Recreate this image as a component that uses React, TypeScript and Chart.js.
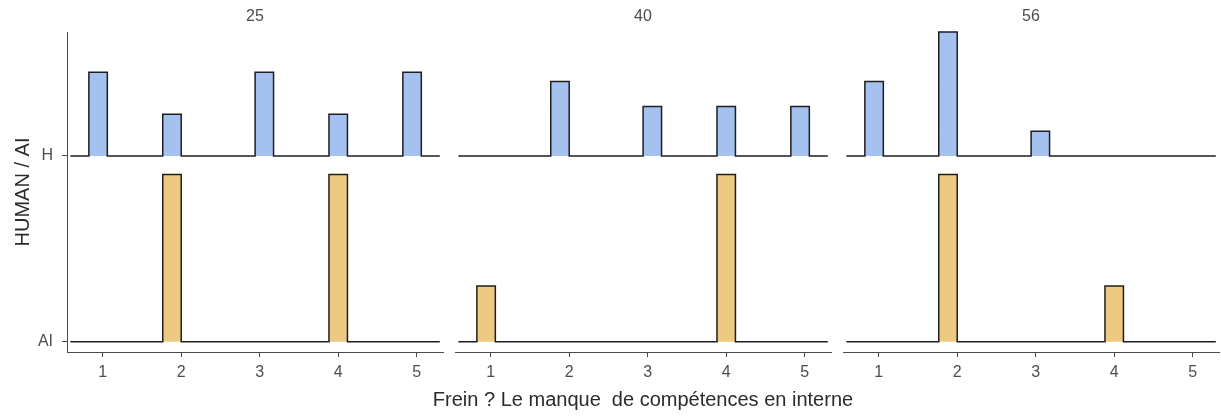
import React, { useEffect, useRef } from 'react';
import { Chart, registerables } from 'chart.js';

Chart.register(...registerables);

// ---------- data ----------
const FACETS = ['25', '40', '56'];
const X_VALUES = [1, 2, 3, 4, 5];
const X_TICKS = [1, 2, 3, 4, 5];
const Y_LABELS = ['AI', 'H'];
const Y_TICKS = [1, 2];

const HUMAN_25 = [2, 1, 2, 1, 2];
const AI_25 = [0, 1, 0, 1, 0];
const HUMAN_40 = [0, 3, 2, 2, 2];
const AI_40 = [1, 0, 0, 3, 0];
const HUMAN_56 = [3, 5, 1, 0, 0];
const AI_56 = [0, 3, 0, 1, 0];

const HUMAN_COUNTS = [HUMAN_25, HUMAN_40, HUMAN_56];
const AI_COUNTS = [AI_25, AI_40, AI_56];

const X_TITLE = 'Frein ? Le manque  de compétences en interne';
const Y_TITLE = 'HUMAN / AI';

// ---------- style / layout ----------
const W = 1221;
const H = 419;
const FONT = '"Liberation Sans", Arial, sans-serif';
const BINS = 18;
const RIDGE_SCALE = 0.9;
const X_MIN = 0.545;
const X_MAX = 5.335;
const Y_MIN = 0.945;
const Y_MAX = 2.667;
const AREA_TOP = 32;
const AREA_BOTTOM = 352;
const PANELS = [
  { left: 67, right: 443 },
  { left: 455, right: 831 },
  { left: 843, right: 1219 },
];
const BLUE = '#a4c1ef';
const GOLD = '#eec981';
const OUTLINE = '#1e1e1e';
const AXIS = '#4a4a4a';
const TEXT = '#4d4d4d';

// ---------- binning (ggplot-style) ----------
const rangeMin = Math.min(...X_VALUES);
const rangeMax = Math.max(...X_VALUES);
const binWidth = (rangeMax - rangeMin) / (BINS - 1);
const boundary = binWidth / 2;
const origin = boundary + Math.floor((rangeMin - boundary) / binWidth) * binWidth;

function binDensity(counts: number[]): number[] {
  const n = counts.reduce((a, b) => a + b, 0);
  const h = new Array(BINS).fill(0);
  X_VALUES.forEach((v, i) => {
    let idx = Math.ceil((v - origin) / binWidth - 1e-7) - 1;
    idx = Math.max(0, Math.min(BINS - 1, idx));
    h[idx] += counts[i] / n / binWidth;
  });
  return h;
}

function ridgePoints(dens: number[], base: number, maxD: number) {
  const padded = [0, ...dens, 0];
  const pts: { x: number; y: number }[] = [];
  padded.forEach((d, k) => {
    const left = origin + (k - 1) * binWidth;
    const y = base + (d / maxD) * RIDGE_SCALE;
    pts.push({ x: left, y }, { x: left + binWidth, y });
  });
  return pts;
}

const panelTextPlugin = {
  id: 'panelText',
  afterDraw(chart: any, _args: any, opts: any) {
    const { ctx, chartArea } = chart;
    const cx = (chartArea.left + chartArea.right) / 2;
    ctx.save();
    ctx.textAlign = 'center';
    ctx.textBaseline = 'middle';
    ctx.fillStyle = TEXT;
    ctx.font = `16px ${FONT}`;
    ctx.fillText(opts.facet, cx, 17);
    if (opts.xTitle) {
      ctx.fillStyle = '#2b2b2b';
      ctx.font = `20px ${FONT}`;
      ctx.fillText(opts.xTitle, cx, 400);
    }
    ctx.restore();
  },
};

function makeConfig(i: number): any {
  const hd = binDensity(HUMAN_COUNTS[i]);
  const ad = binDensity(AI_COUNTS[i]);
  const maxD = Math.max(...hd, ...ad);
  const p = PANELS[i];
  const first = i === 0;
  return {
    type: 'line',
    data: {
      datasets: [
        {
          label: Y_LABELS[0],
          data: ridgePoints(ad, Y_TICKS[0], maxD),
          borderColor: OUTLINE,
          backgroundColor: GOLD,
          borderWidth: 1.5,
          pointRadius: 0,
          tension: 0,
          fill: { value: Y_TICKS[0] },
          clip: false,
        },
        {
          label: Y_LABELS[1],
          data: ridgePoints(hd, Y_TICKS[1], maxD),
          borderColor: OUTLINE,
          backgroundColor: BLUE,
          borderWidth: 1.5,
          pointRadius: 0,
          tension: 0,
          fill: { value: Y_TICKS[1] },
          clip: false,
        },
      ],
    },
    options: {
      responsive: false,
      maintainAspectRatio: false,
      animation: false,
      events: [],
      layout: {
        padding: {
          left: first ? 0 : p.left,
          right: W - p.right,
          top: AREA_TOP,
          bottom: 0,
        },
      },
      plugins: {
        legend: { display: false },
        tooltip: { enabled: false },
        panelText: { facet: FACETS[i], xTitle: i === 1 ? X_TITLE : '' },
      },
      scales: {
        x: {
          type: 'linear',
          position: 'bottom',
          min: X_MIN,
          max: X_MAX,
          afterBuildTicks: (s: any) => {
            s.ticks = X_TICKS.map((v) => ({ value: v }));
          },
          afterFit: (s: any) => {
            s.height = H - AREA_BOTTOM;
          },
          ticks: {
            color: TEXT,
            font: { family: FONT, size: 16 },
            padding: 6,
            maxRotation: 0,
            autoSkip: false,
            callback: (v: any) => String(v),
          },
          grid: {
            display: true,
            drawOnChartArea: false,
            drawTicks: true,
            tickLength: 5,
            color: AXIS,
            lineWidth: 1,
          },
          border: { display: true, color: AXIS, width: 1 },
        },
        y: {
          type: 'linear',
          position: 'left',
          display: first,
          min: Y_MIN,
          max: Y_MAX,
          afterBuildTicks: (s: any) => {
            s.ticks = Y_TICKS.map((v) => ({ value: v }));
          },
          afterFit: (s: any) => {
            s.width = first ? PANELS[0].left : 0;
          },
          ticks: {
            color: TEXT,
            font: { family: FONT, size: 16 },
            padding: 9,
            autoSkip: false,
            callback: (v: any) => Y_LABELS[Y_TICKS.indexOf(v)] ?? '',
          },
          grid: {
            display: true,
            drawOnChartArea: false,
            drawTicks: true,
            tickLength: 5,
            color: AXIS,
            lineWidth: 1,
          },
          border: { display: true, color: AXIS, width: 1 },
          title: {
            display: true,
            text: Y_TITLE,
            color: '#2b2b2b',
            font: { family: FONT, size: 20 },
            padding: { top: 11, bottom: 0 },
          },
        },
      },
    },
    plugins: [panelTextPlugin],
  };
}

export default function App() {
  const r0 = useRef<HTMLCanvasElement>(null);
  const r1 = useRef<HTMLCanvasElement>(null);
  const r2 = useRef<HTMLCanvasElement>(null);

  useEffect(() => {
    const refs = [r0, r1, r2];
    const charts = refs.map((r, i) => new Chart(r.current as HTMLCanvasElement, makeConfig(i)));
    return () => charts.forEach((c) => c.destroy());
  }, []);

  const cs: React.CSSProperties = { position: 'absolute', left: 0, top: 0, width: W, height: H };
  return (
    <div style={{ position: 'absolute', left: 0, top: 0, width: W, height: H, background: '#fff' }}>
      <canvas ref={r0} width={W} height={H} style={cs} />
      <canvas ref={r1} width={W} height={H} style={cs} />
      <canvas ref={r2} width={W} height={H} style={cs} />
    </div>
  );
}
